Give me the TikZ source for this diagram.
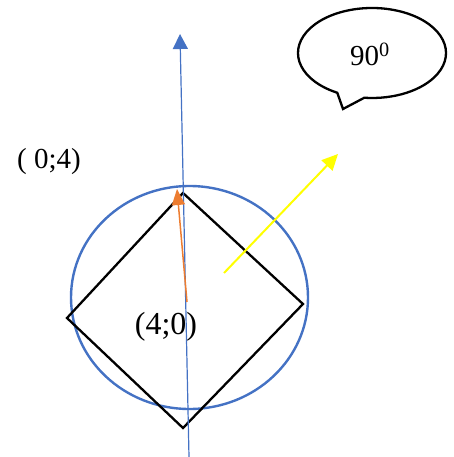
\documentclass[tikz,border=0pt]{standalone}
\usepackage{fontspec}
\setmainfont{Liberation Serif}
\usetikzlibrary{arrows.meta,calc}
\definecolor{axisblue}{HTML}{4472C4}
\definecolor{arroworange}{HTML}{ED7D31}
\definecolor{arrowyellow}{HTML}{FFFF00}
\begin{document}
\begin{tikzpicture}[x=1pt,y=-1pt,
  shapeline/.style={draw=black,line width=2.3pt,line join=miter},
  axisline/.style={draw=axisblue,line width=1.2pt,-{Triangle[width=15pt,length=15pt]}},
  orangearrow/.style={draw=arroworange,line width=1.5pt,-{Triangle[width=13pt,length=16pt]}},
  yellowarrow/.style={draw=arrowyellow,line width=2pt,-{Triangle[width=15pt,length=16pt]}},
  lbl/.style={inner sep=0pt,font=\fontsize{29}{34}\selectfont}
]
\useasboundingbox (0,0) rectangle (454,457);
% circle
\coordinate (cc) at (189.5,297.5);
\draw[draw=axisblue,line width=2.4pt] (cc) ellipse [x radius=118.5,y radius=111.5];
% diamond
\coordinate (dT) at (183,193);
\coordinate (dR) at (303,304);
\coordinate (dB) at (183,428);
\coordinate (dL) at (67,318);
\draw[shapeline] (dT) -- (dR) -- (dB) -- (dL) -- cycle;
% axis
\coordinate (axb) at (189,457);
\coordinate (axt) at (180,34);
\draw[axisline] (axb) -- (axt);
% orange arrow
\coordinate (ob) at (187,302);
\coordinate (ot) at (177,189);
\draw[orangearrow] (ob) -- (ot);
% yellow arrow
\coordinate (ys) at (224,273);
\coordinate (ye) at (338,154);
\draw[yellowarrow] (ys) -- (ye);
% labels
\node[lbl] (l04) at (49,162) {( 0;4)};
\node[lbl,font=\fontsize{32}{36}\selectfont] (l40) at (166,327) {(4;0)};
% speech bubble
\coordinate (bc) at (372,53);
\coordinate (btip) at (343,109);
\draw[shapeline] ($(bc)+(118:74 and 45)$) arc[start angle=118,end angle=456,x radius=74,y radius=45] -- (btip) -- cycle;
\node[lbl,font=\fontsize{29}{33}\selectfont] (t90) at (370,54) {90\textsuperscript{0}};
\end{tikzpicture}
\end{document}
